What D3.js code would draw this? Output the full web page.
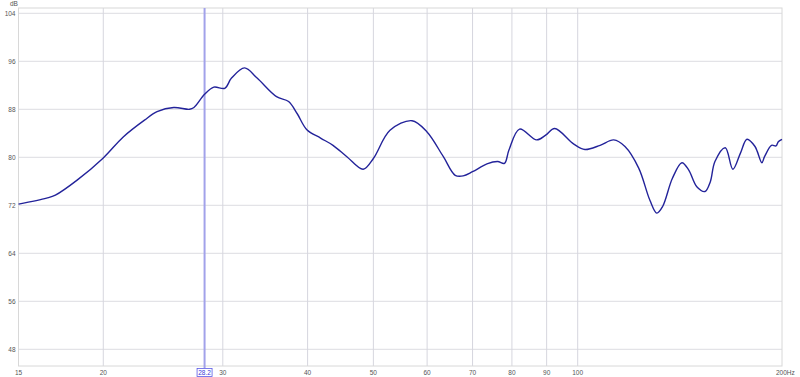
<!DOCTYPE html>
<html>
<head>
<meta charset="utf-8">
<script src="https://cdn.jsdelivr.net/npm/d3@7"></script>
<style>
  body { margin: 0; background: #fff; }
  text { font-family: "Liberation Sans", Arial, sans-serif; font-size: 6.5px; fill: #555; }
</style>
</head>
<body>
<svg id="chart" width="800" height="377"></svg>
<script>
// frequency response
const freqs = [15, 16.5, 17.0, 18.3, 20.0, 21.4, 23.0, 24.0, 25.4, 26.8, 27.2, 28.2, 29.1, 30.2, 30.9,
  32.3, 33.7, 36.0, 37.5, 38.6, 39.9, 41.8, 43.6, 45.7, 48.3, 50.0, 52.9, 57.0, 59.9, 63.4, 66.0,
  67.8, 70.0, 73.5, 76.2, 78.0, 79.2, 82.1, 87.0, 89.7, 92.5, 98.7, 102.5, 107.9, 113.0, 117.4,
  123.0, 127.8, 130.8, 133.4, 137.9, 142.4, 145.7, 149.8, 154.0, 156.8, 159.3, 165.0, 169.3,
  173.7, 177.6, 182.5, 184.0, 186.8, 188.5, 193.0, 196.0, 197.5, 200]
const spl = [72.2, 73.2, 73.7, 76.2, 79.9, 83.4, 86.2, 87.6, 88.3, 88.0, 88.3, 90.5, 91.7, 91.5, 93.2,
  94.9, 93.2, 90.1, 89.3, 87.3, 84.6, 83.2, 82.0, 80.1, 78.0, 79.8, 84.5, 86.1, 84.3, 80.1, 77.0,
  76.9, 77.6, 78.9, 79.3, 79.0, 81.2, 84.7, 82.9, 83.7, 84.8, 82.2, 81.3, 82.0, 82.9, 81.8,
  78.2, 72.8, 70.7, 71.8, 76.5, 79.1, 77.9, 75.1, 74.3, 75.9, 79.3, 81.6, 78.0,
  80.7, 83.0, 81.8, 80.9, 79.1, 80.1, 82.0, 81.9, 82.6, 83.0]

const xTicks = [15, 20, 30, 40, 50, 60, 70, 80, 90, 100, 200]
const yTicks = [48, 56, 64, 72, 80, 88, 96, 104]
const cursorFreq = 28.2

const plotLeft = 18.5, plotRight = 782, plotTop = 8, plotBottom = 366

const x = d3.scaleLog().domain([15, 200]).range([plotLeft, plotRight])
const y = d3.scaleLinear().domain([48, 104]).range([349.3, 13.3])

const svg = d3.select("#chart")

// grid
svg.append("g")
  .selectAll("line")
  .data(yTicks)
  .join("line")
  .attr("x1", plotLeft).attr("x2", plotRight)
  .attr("y1", d => y(d)).attr("y2", d => y(d))
  .attr("stroke", "#dcdce2").attr("stroke-width", 1)

svg.append("g")
  .selectAll("line")
  .data(xTicks.slice(1, -1))
  .join("line")
  .attr("x1", d => x(d)).attr("x2", d => x(d))
  .attr("y1", plotTop).attr("y2", plotBottom)
  .attr("stroke", "#d6d6de").attr("stroke-width", 1)

// frame
svg.append("rect")
  .attr("x", plotLeft).attr("y", plotTop)
  .attr("width", plotRight - plotLeft).attr("height", plotBottom - plotTop)
  .attr("fill", "none").attr("stroke", "#d8d8d8")

// y labels
svg.append("g")
  .selectAll("text")
  .data(yTicks)
  .join("text")
  .attr("x", 15.5).attr("y", d => y(d))
  .attr("dy", "0.35em")
  .attr("text-anchor", "end")
  .text(d => d)

svg.append("text").attr("x", 10).attr("y", 6).text("dB")

// x labels
svg.append("g")
  .selectAll("text")
  .data(xTicks.slice(0, -1))
  .join("text")
  .attr("x", d => x(d)).attr("y", 374.5)
  .attr("text-anchor", "middle")
  .text(d => d)

svg.append("text").attr("x", x(200) - 6).attr("y", 374.5).text("200Hz")

// cursor
const cx = x(cursorFreq)
svg.append("line")
  .attr("x1", cx).attr("x2", cx).attr("y1", plotTop).attr("y2", plotBottom + 2)
  .attr("stroke", "#a2a2ea").attr("stroke-width", 2)

svg.append("rect")
  .attr("x", cx - 7.5).attr("y", 368.5).attr("width", 15).attr("height", 8)
  .attr("fill", "#fff").attr("stroke", "#5a5ae6").attr("stroke-width", 0.8)
svg.append("text")
  .attr("x", cx).attr("y", 374.8)
  .attr("text-anchor", "middle")
  .style("fill", "#3a3ad8")
  .text(cursorFreq)

// response curve
const line = d3.line()
  .x(d => x(d[0]))
  .y(d => y(d[1]))
  .curve(d3.curveCatmullRom.alpha(0.5))

svg.append("path")
  .datum(d3.zip(freqs, spl))
  .attr("d", line)
  .attr("fill", "none")
  .attr("stroke", "#23239a")
  .attr("stroke-width", 1.4)
</script>
</body>
</html>
